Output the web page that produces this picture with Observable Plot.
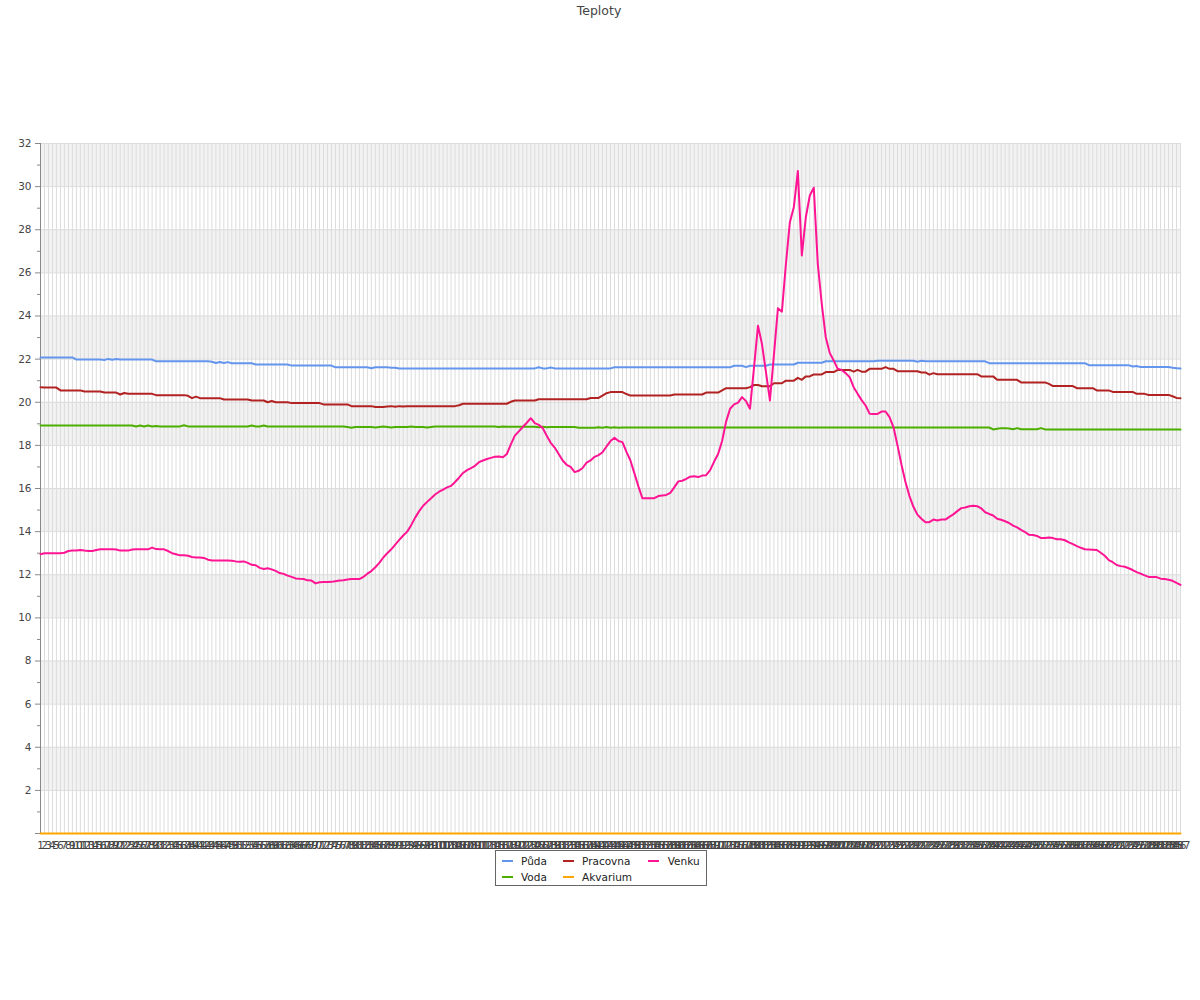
<!DOCTYPE html>
<html><head><meta charset="utf-8">
<script src="https://cdn.jsdelivr.net/npm/d3@7"></script>
<script src="https://cdn.jsdelivr.net/npm/@observablehq/plot@0.6"></script>
<style>
body{margin:0;background:#fff;font-family:"DejaVu Sans",sans-serif;}
#wrap{position:relative;width:1200px;height:1000px;}
#chart{position:absolute;left:0;top:0;}
#title{position:absolute;left:0;top:3px;width:1198px;text-align:center;font-size:12.5px;color:#444;}
#legend{position:absolute;left:495px;top:850px;width:212px;height:36px;border:1px solid #666;box-sizing:border-box;background:#fff;font-size:10.5px;color:#222;}
.item{position:absolute;white-space:nowrap;line-height:12px;}
.sw{position:absolute;width:11px;height:2px;}
</style></head>
<body>
<div id="wrap"><div id="chart"></div><div id="title">Teploty</div><div id="legend"></div></div>
<script>
const xLabels = [1,2,3,4,5,6,7,8,9,10,11,12,13,14,15,16,17,18,19,20,21,22,23,24,25,26,27,28,29,30,
31,32,33,34,35,36,37,38,39,40,41,42,43,44,45,46,47,48,49,50,51,52,53,54,55,56,57,58,59,60,
61,62,63,64,65,66,67,68,69,70,71,72,73,74,75,76,77,78,79,80,81,82,83,84,85,86,87,88,89,90,
91,92,93,94,95,96,97,98,99,100,101,102,103,104,105,106,107,108,109,110,111,112,113,114,115,116,117,118,119,120,
121,122,123,124,125,126,127,128,129,130,131,132,133,134,135,136,137,138,139,140,141,142,143,144,145,146,147,148,149,150,
151,152,153,154,155,156,157,158,159,160,161,162,163,164,165,166,167,168,169,170,171,172,173,174,175,176,177,178,179,180,
181,182,183,184,185,186,187,188,189,190,191,192,193,194,195,196,197,198,199,200,201,202,203,204,205,206,207,208,209,210,
211,212,213,214,215,216,217,218,219,220,221,222,223,224,225,226,227,228,229,230,231,232,233,234,235,236,237,238,239,240,
241,242,243,244,245,246,247,248,249,250,251,252,253,254,255,256,257,258,259,260,261,262,263,264,265,266,267,268,269,270,
271,272,273,274,275,276,277,278,279,280,281,282,283,284,285,286,287];

const puda = [
22.08,22.08,22.08,22.08,22.08,22.08,22.08,22.08,22.08,21.98,
21.98,21.98,21.98,21.98,21.98,21.98,21.96,22.01,21.97,22.01,
21.98,21.98,21.98,21.98,21.98,21.98,21.98,21.98,21.98,21.9,
21.9,21.9,21.9,21.9,21.9,21.9,21.9,21.9,21.9,21.9,
21.9,21.9,21.9,21.88,21.82,21.87,21.82,21.86,21.81,21.81,
21.81,21.81,21.81,21.81,21.75,21.75,21.75,21.75,21.75,21.75,
21.75,21.75,21.75,21.7,21.7,21.7,21.7,21.7,21.7,21.7,
21.7,21.7,21.7,21.7,21.62,21.62,21.62,21.62,21.62,21.62,
21.62,21.62,21.62,21.58,21.62,21.62,21.62,21.62,21.6,21.6,
21.57,21.57,21.57,21.57,21.57,21.57,21.57,21.57,21.57,21.57,
21.57,21.57,21.57,21.57,21.57,21.57,21.57,21.57,21.57,21.57,
21.57,21.57,21.57,21.57,21.57,21.57,21.57,21.57,21.57,21.57,
21.57,21.57,21.57,21.57,21.57,21.62,21.57,21.57,21.61,21.57,
21.57,21.57,21.57,21.57,21.57,21.57,21.57,21.57,21.57,21.57,
21.57,21.57,21.57,21.57,21.62,21.62,21.62,21.62,21.62,21.62,
21.62,21.62,21.62,21.62,21.62,21.62,21.62,21.62,21.62,21.62,
21.62,21.62,21.62,21.62,21.62,21.62,21.62,21.62,21.62,21.62,
21.62,21.62,21.62,21.62,21.69,21.69,21.69,21.63,21.69,21.69,
21.69,21.69,21.69,21.75,21.75,21.75,21.75,21.75,21.75,21.75,
21.83,21.83,21.83,21.83,21.83,21.83,21.83,21.9,21.9,21.9,
21.9,21.9,21.9,21.9,21.9,21.9,21.9,21.9,21.9,21.9,
21.92,21.92,21.92,21.92,21.92,21.92,21.92,21.92,21.92,21.92,
21.88,21.92,21.9,21.9,21.9,21.9,21.9,21.9,21.9,21.9,
21.9,21.9,21.9,21.9,21.9,21.9,21.9,21.9,21.81,21.81,
21.81,21.81,21.81,21.81,21.81,21.81,21.81,21.81,21.81,21.81,
21.81,21.81,21.81,21.81,21.81,21.81,21.81,21.81,21.81,21.81,
21.81,21.81,21.81,21.72,21.72,21.72,21.72,21.72,21.72,21.72,
21.72,21.72,21.72,21.72,21.66,21.68,21.63,21.63,21.63,21.63,
21.63,21.63,21.63,21.63,21.6,21.58,21.56];

const voda = [
18.92,18.92,18.92,18.92,18.92,18.92,18.92,18.92,18.92,18.92,
18.92,18.92,18.92,18.92,18.92,18.92,18.92,18.92,18.92,18.92,
18.92,18.92,18.92,18.92,18.88,18.92,18.88,18.92,18.88,18.9,
18.88,18.88,18.88,18.88,18.88,18.88,18.93,18.88,18.88,18.88,
18.88,18.88,18.88,18.88,18.88,18.88,18.88,18.88,18.88,18.88,
18.88,18.88,18.88,18.92,18.88,18.88,18.92,18.88,18.88,18.88,
18.88,18.88,18.88,18.88,18.88,18.88,18.88,18.88,18.88,18.88,
18.88,18.88,18.88,18.88,18.88,18.88,18.88,18.85,18.82,18.85,
18.85,18.85,18.85,18.85,18.83,18.85,18.87,18.85,18.83,18.85,
18.85,18.85,18.85,18.87,18.85,18.85,18.85,18.83,18.85,18.87,
18.88,18.88,18.88,18.88,18.88,18.88,18.88,18.88,18.88,18.88,
18.88,18.88,18.88,18.88,18.88,18.85,18.88,18.86,18.86,18.86,
18.86,18.86,18.86,18.86,18.86,18.84,18.86,18.84,18.85,18.85,
18.85,18.85,18.85,18.85,18.85,18.82,18.82,18.82,18.82,18.82,
18.84,18.82,18.85,18.82,18.84,18.82,18.83,18.83,18.83,18.83,
18.83,18.83,18.83,18.83,18.83,18.83,18.83,18.83,18.83,18.83,
18.83,18.83,18.83,18.83,18.83,18.83,18.83,18.83,18.83,18.83,
18.83,18.83,18.83,18.83,18.83,18.83,18.83,18.83,18.83,18.83,
18.83,18.83,18.83,18.83,18.83,18.83,18.83,18.83,18.83,18.83,
18.83,18.83,18.83,18.83,18.83,18.83,18.83,18.83,18.83,18.83,
18.83,18.83,18.83,18.83,18.83,18.83,18.83,18.83,18.83,18.83,
18.83,18.83,18.83,18.83,18.83,18.83,18.83,18.83,18.83,18.83,
18.83,18.83,18.83,18.83,18.83,18.83,18.83,18.83,18.83,18.83,
18.83,18.83,18.83,18.83,18.83,18.83,18.83,18.83,18.83,18.74,
18.77,18.8,18.8,18.78,18.75,18.8,18.75,18.75,18.75,18.75,
18.75,18.8,18.74,18.74,18.74,18.74,18.74,18.74,18.74,18.74,
18.74,18.74,18.74,18.74,18.74,18.74,18.74,18.74,18.74,18.74,
18.74,18.74,18.74,18.74,18.74,18.74,18.74,18.74,18.74,18.74,
18.74,18.74,18.74,18.74,18.74,18.74,18.74];

const pracovna = [
20.7,20.68,20.68,20.68,20.68,20.55,20.55,20.55,20.55,20.55,
20.55,20.5,20.5,20.5,20.5,20.5,20.45,20.45,20.45,20.45,
20.36,20.43,20.39,20.39,20.39,20.39,20.39,20.39,20.39,20.33,
20.33,20.33,20.33,20.33,20.33,20.33,20.33,20.3,20.19,20.26,
20.19,20.19,20.19,20.19,20.19,20.19,20.13,20.13,20.13,20.13,
20.13,20.13,20.13,20.08,20.08,20.08,20.08,20.0,20.06,20.0,
20.0,20.0,20.0,19.96,19.96,19.96,19.96,19.96,19.96,19.96,
19.96,19.9,19.9,19.9,19.9,19.9,19.9,19.9,19.82,19.82,
19.82,19.82,19.82,19.82,19.78,19.78,19.78,19.8,19.82,19.79,
19.82,19.8,19.82,19.82,19.82,19.82,19.82,19.82,19.82,19.82,
19.82,19.82,19.82,19.82,19.82,19.86,19.93,19.93,19.93,19.93,
19.93,19.93,19.93,19.93,19.93,19.93,19.93,19.93,20.02,20.08,
20.08,20.08,20.08,20.08,20.08,20.14,20.14,20.14,20.14,20.14,
20.14,20.14,20.14,20.14,20.14,20.14,20.14,20.14,20.2,20.2,
20.2,20.31,20.42,20.47,20.47,20.47,20.47,20.38,20.31,20.31,
20.31,20.31,20.31,20.31,20.31,20.31,20.31,20.31,20.31,20.36,
20.36,20.36,20.36,20.36,20.36,20.36,20.36,20.45,20.45,20.45,
20.45,20.55,20.65,20.65,20.65,20.65,20.65,20.65,20.7,20.8,
20.8,20.74,20.74,20.74,20.88,20.88,20.88,21.0,21.0,21.0,
21.13,21.04,21.2,21.2,21.29,21.29,21.29,21.4,21.4,21.4,
21.5,21.5,21.5,21.5,21.42,21.5,21.42,21.42,21.55,21.55,
21.55,21.55,21.63,21.55,21.55,21.44,21.44,21.44,21.44,21.44,
21.44,21.38,21.38,21.28,21.35,21.3,21.3,21.3,21.3,21.3,
21.3,21.3,21.3,21.3,21.3,21.3,21.2,21.2,21.2,21.2,
21.04,21.04,21.04,21.04,21.04,21.04,20.92,20.92,20.92,20.92,
20.92,20.92,20.92,20.85,20.75,20.75,20.75,20.75,20.75,20.75,
20.65,20.65,20.65,20.65,20.65,20.55,20.55,20.55,20.55,20.48,
20.48,20.48,20.48,20.48,20.48,20.39,20.39,20.39,20.34,20.34,
20.34,20.34,20.34,20.34,20.28,20.2,20.19];

const akvarium = [
0,0,0,0,0,0,0,0,0,0,0,0,0,0,0,0,0,0,0,0,0,0,0,0,0,0,0,0,0,0,
0,0,0,0,0,0,0,0,0,0,0,0,0,0,0,0,0,0,0,0,0,0,0,0,0,0,0,0,0,0,
0,0,0,0,0,0,0,0,0,0,0,0,0,0,0,0,0,0,0,0,0,0,0,0,0,0,0,0,0,0,
0,0,0,0,0,0,0,0,0,0,0,0,0,0,0,0,0,0,0,0,0,0,0,0,0,0,0,0,0,0,
0,0,0,0,0,0,0,0,0,0,0,0,0,0,0,0,0,0,0,0,0,0,0,0,0,0,0,0,0,0,
0,0,0,0,0,0,0,0,0,0,0,0,0,0,0,0,0,0,0,0,0,0,0,0,0,0,0,0,0,0,
0,0,0,0,0,0,0,0,0,0,0,0,0,0,0,0,0,0,0,0,0,0,0,0,0,0,0,0,0,0,
0,0,0,0,0,0,0,0,0,0,0,0,0,0,0,0,0,0,0,0,0,0,0,0,0,0,0,0,0,0,
0,0,0,0,0,0,0,0,0,0,0,0,0,0,0,0,0,0,0,0,0,0,0,0,0,0,0,0,0,0,
0,0,0,0,0,0,0,0,0,0,0,0,0,0,0,0,0];

const venku = [
12.95,13.0,13.0,13.0,13.0,13.0,13.02,13.1,13.12,13.12,
13.15,13.12,13.1,13.1,13.15,13.18,13.18,13.18,13.18,13.17,
13.12,13.12,13.12,13.17,13.18,13.18,13.18,13.18,13.26,13.19,
13.18,13.18,13.1,13.0,12.95,12.9,12.9,12.88,12.82,12.8,
12.8,12.78,12.7,12.66,12.66,12.66,12.66,12.66,12.65,12.62,
12.6,12.62,12.55,12.46,12.44,12.32,12.27,12.3,12.25,12.18,
12.08,12.04,11.96,11.9,11.83,11.81,11.8,11.74,11.73,11.6,
11.65,11.66,11.66,11.67,11.7,11.73,11.75,11.78,11.8,11.8,
11.8,11.9,12.05,12.17,12.35,12.55,12.8,13.0,13.18,13.4,
13.62,13.82,14.0,14.3,14.65,14.95,15.2,15.38,15.55,15.72,
15.85,15.95,16.05,16.12,16.3,16.5,16.72,16.85,16.95,17.05,
17.22,17.3,17.37,17.42,17.47,17.48,17.45,17.6,18.05,18.45,
18.65,18.85,19.05,19.26,19.03,18.95,18.8,18.45,18.12,17.9,
17.6,17.3,17.1,17.0,16.76,16.82,16.95,17.2,17.3,17.47,
17.55,17.68,17.95,18.2,18.35,18.2,18.15,17.7,17.3,16.7,
16.1,15.55,15.55,15.55,15.55,15.65,15.68,15.7,15.8,16.05,
16.33,16.36,16.45,16.55,16.57,16.53,16.6,16.62,16.85,17.25,
17.6,18.2,19.1,19.7,19.9,19.98,20.24,20.05,19.7,21.6,
23.55,22.7,21.4,20.08,22.2,24.36,24.2,26.4,28.35,29.05,
30.72,26.81,28.58,29.59,29.95,26.42,24.56,23.02,22.29,21.94,
21.55,21.5,21.35,21.16,20.7,20.39,20.1,19.85,19.47,19.46,
19.46,19.57,19.57,19.31,18.84,18.0,17.1,16.3,15.65,15.15,
14.79,14.6,14.44,14.44,14.56,14.52,14.56,14.56,14.68,14.8,
14.95,15.09,15.12,15.18,15.2,15.18,15.08,14.9,14.82,14.75,
14.6,14.55,14.48,14.4,14.28,14.2,14.08,13.98,13.85,13.84,
13.8,13.7,13.7,13.73,13.7,13.65,13.65,13.6,13.5,13.42,
13.33,13.25,13.18,13.17,13.16,13.15,13.02,12.88,12.68,12.58,
12.45,12.4,12.37,12.3,12.22,12.12,12.05,11.97,11.9,11.89,
11.89,11.82,11.8,11.77,11.72,11.62,11.53];

const seriesNames = ["Půda", "Voda", "Pracovna", "Akvarium", "Venku"];
const seriesColors = ["#6495ed", "#4caf00", "#b22222", "#ffa500", "#ff1493"];
const seriesValues = [puda, voda, pracovna, akvarium, venku];

const yMajorTicks = [0,2,4,6,8,10,12,14,16,18,20,22,24,26,28,30,32];
const yMinorTicks = [1,3,5,7,9,11,13,15,17,19,21,23,25,27,29,31];
const gridY = [2,4,6,8,10,12,14,16,18,20,22,24,26,28,30,32];
const bandStarts = [2,6,10,14,18,22,26,30];
const bandSize = 2;

const lineMarks = seriesValues.map((vals, s) =>
  Plot.line(vals.map((v, k) => ({x: xLabels[k], y: v})), {x: "x", y: "y", stroke: seriesColors[s], strokeWidth: 2})
);

const chart = Plot.plot({
  width: 1200, height: 860,
  marginTop: 143, marginBottom: 27, marginLeft: 40, marginRight: 20,
  style: {fontFamily: "DejaVu Sans", fontSize: "10.5px", color: "#444", background: "transparent"},
  x: {type: "point", domain: xLabels, padding: 0},
  y: {domain: [0, 32]},
  marks: [
    Plot.rect(bandStarts, {y1: d => d, y2: d => d + bandSize, fill: "#f2f2f2"}),
    Plot.ruleX(xLabels, {stroke: "#dcdcdc", strokeWidth: 1}),
    Plot.ruleY(gridY, {stroke: "#dcdcdc", strokeWidth: 1}),
    Plot.axisY(yMajorTicks, {anchor: "left", tickSize: 5, tickPadding: 4, stroke: "#888", fill: "#444", tickFormat: d => d === 0 ? "" : String(d), label: null}),
    Plot.axisY(yMinorTicks, {anchor: "left", tickSize: 3, stroke: "#888", tickFormat: () => "", label: null}),
    Plot.axisX(xLabels, {anchor: "bottom", tickSize: 0, tickPadding: 8, fill: "#444", label: null}),
    Plot.ruleX([xLabels[0]], {stroke: "#888"}),
    Plot.ruleY([0], {stroke: "#888"}),
    ...lineMarks
  ]
});
document.getElementById("chart").appendChild(chart);

// legend
const legendPos = [
  {sw: 5.7, tx: 25, row: 0}, {sw: 5.7, tx: 25, row: 1},
  {sw: 66.7, tx: 86, row: 0}, {sw: 66.7, tx: 86, row: 1},
  {sw: 151.7, tx: 171.7, row: 0}
];
const legend = document.getElementById("legend");
seriesNames.forEach((name, s) => {
  const p = legendPos[s];
  const cy = p.row === 0 ? 10 : 26;
  const sw = document.createElement("div");
  sw.className = "sw";
  sw.style.left = p.sw + "px";
  sw.style.top = (cy - 1) + "px";
  sw.style.background = seriesColors[s];
  legend.appendChild(sw);
  const t = document.createElement("div");
  t.className = "item";
  t.style.left = p.tx + "px";
  t.style.top = (cy - 6) + "px";
  t.textContent = name;
  legend.appendChild(t);
});
</script>
</body></html>
